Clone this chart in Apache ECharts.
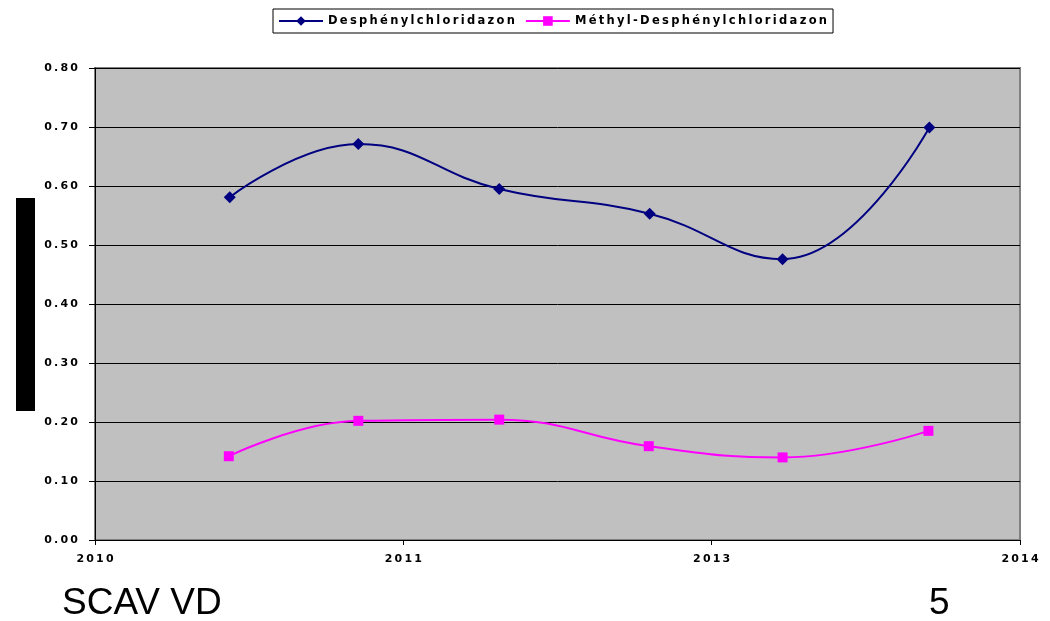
<!DOCTYPE html>
<html>
<head>
<meta charset="utf-8">
<script src="https://cdn.jsdelivr.net/npm/echarts@6/dist/echarts.min.js"></script>
<style>
  html, body { margin: 0; padding: 0; background: #fff; }
  #chart { width: 1050px; height: 621px; }
</style>
</head>
<body>
<div id="chart"></div>
<script>
// x positions are in axis units (0 = first tick, 3 = last tick)
var xTickLabels = ['2010', '2011', '2013', '2014'];
var xPos = [0.437, 0.854, 1.311, 1.799, 2.230, 2.706];
var desphValues = [0.581, 0.671, 0.595, 0.553, 0.476, 0.699];
var methylXPos = [0.434, 0.854, 1.311, 1.796, 2.230, 2.703];
var methylValues = [0.142, 0.202, 0.204, 0.159, 0.140, 0.185];
var seriesNames = ['Desphénylchloridazon', 'Méthyl-Desphénylchloridazon'];

function pairs(xs, ys) {
  return xs.map(function (x, i) { return [x, ys[i]]; });
}

// Excel's spread-out lettering
function spaced(s) {
  return String(s).split('').join('\u2009');
}

var labelStyle = { fontFamily: 'DejaVu Sans', fontSize: 11, fontWeight: 'bold', color: '#000' };

var chart = echarts.init(document.getElementById('chart'));
chart.setOption({
  animation: false,
  legend: {
    top: 9,
    left: 273,
    data: seriesNames,
    itemWidth: 44,
    itemHeight: 12,
    itemGap: 10,
    padding: [6, 6, 6, 5],
    borderColor: '#000',
    borderWidth: 1,
    formatter: spaced,
    textStyle: Object.assign({}, labelStyle, { fontSize: 11.5 })
  },
  grid: {
    left: 95, right: 30, top: 68, bottom: 81,
    show: true,
    backgroundColor: '#c0c0c0',
    borderColor: '#808080',
    borderWidth: 2
  },
  xAxis: {
    type: 'value',
    min: 0, max: 3, interval: 1,
    axisLine: { show: true, lineStyle: { color: '#000', width: 1 } },
    axisTick: { show: true, length: 5, lineStyle: { color: '#000' } },
    splitLine: { show: false },
    axisLabel: Object.assign({
      margin: 14,
      formatter: function (v) { return spaced(xTickLabels[Math.round(v)] || ''); }
    }, labelStyle)
  },
  yAxis: {
    type: 'value',
    min: 0, max: 0.8, interval: 0.1,
    axisLine: { show: true, lineStyle: { color: '#000', width: 1 } },
    axisTick: { show: true, length: 6, lineStyle: { color: '#000' } },
    splitLine: { show: true, lineStyle: { color: '#000', width: 1 } },
    axisLabel: Object.assign({
      margin: 17,
      formatter: function (v) { return spaced(v.toFixed(2)); }
    }, labelStyle)
  },
  graphic: [
    { type: 'rect', left: 16, top: 198, shape: { width: 19, height: 213 }, style: { fill: '#000' } },
    { type: 'text', left: 62, top: 585, style: { text: 'SCAV VD', font: '37px Liberation Sans, Arial, sans-serif', fill: '#000' } },
    { type: 'text', left: 929, top: 585, style: { text: '5', font: '37px Liberation Sans, Arial, sans-serif', fill: '#000' } }
  ],
  series: [
    {
      name: seriesNames[0],
      type: 'line',
      smooth: 0.45,
      data: pairs(xPos, desphValues),
      symbol: 'diamond',
      symbolSize: 12,
      itemStyle: { color: '#000080' },
      lineStyle: { color: '#000080', width: 2 }
    },
    {
      name: seriesNames[1],
      type: 'line',
      smooth: 0.45,
      data: pairs(methylXPos, methylValues),
      symbol: 'rect',
      symbolSize: 10,
      itemStyle: { color: '#ff00ff' },
      lineStyle: { color: '#ff00ff', width: 2 }
    }
  ]
});
</script>
</body>
</html>
